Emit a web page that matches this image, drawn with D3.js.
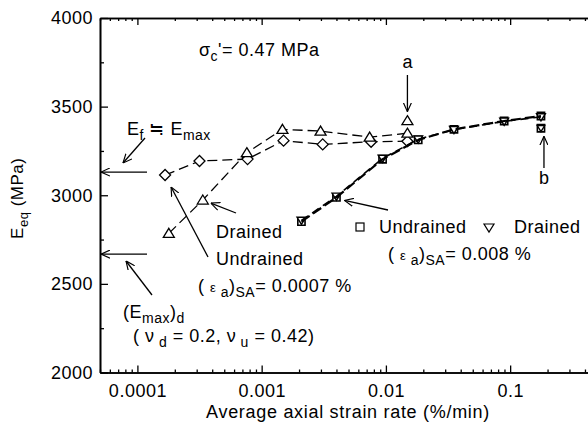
<!DOCTYPE html>
<html><head><meta charset="utf-8">
<script src="https://cdn.jsdelivr.net/npm/d3@7"></script>
<style>
body{margin:0;background:#fff}
svg{display:block}
text{font-family:"Liberation Sans",Arial,Helvetica,sans-serif;fill:#000}
</style>
</head><body>
<svg id="chart" width="588" height="423"></svg>
<script>
// ---- data ----
const undrained07X = [1.67e-4, 3.16e-4, 7.7e-4, 1.5e-3, 3.1e-3, 7.6e-3, 0.0149];
const undrained07E = [3114, 3193, 3204, 3308, 3287, 3302, 3305];
const drained07X   = [1.79e-4, 3.36e-4, 7.6e-4, 1.47e-3, 2.98e-3, 7.4e-3, 0.0149];
const drained07E   = [2785, 2973, 3240, 3372, 3362, 3328, 3350];
const pointAX = [0.0149];
const pointAE = [3421];
const undrained008X = [2.09e-3, 4.0e-3, 9.4e-3, 0.0182, 0.0353, 0.0895, 0.177];
const undrained008E = [2851, 2988, 3203, 3312, 3372, 3419, 3447];
const drained008X   = [2.09e-3, 4.0e-3, 9.4e-3, 0.0182, 0.0353, 0.0895, 0.177];
const drained008E   = [2858, 2994, 3208, 3316, 3370, 3417, 3442];
const pointBX = [0.177];
const pointBE = [3378];
const refLevels = [3131, 2668]; // Ef ≒ Emax, (Emax)d
const yTicks = [2000, 2500, 3000, 3500, 4000];
const yMinorTicks = [2250, 2750, 3250, 3750];
const xTicks = [0.0001, 0.001, 0.01, 0.1];
const xTickLabels = ["0.0001", "0.001", "0.01", "0.1"];

// ---- layout ----
const svg = d3.select("#chart");
const L = 100, R = 597, T = 18, B = 372.5;
const x = d3.scaleLog().domain([5e-5, 0.5]).range([L, R]);
const y = d3.scaleLinear().domain([2000, 4000]).range([B, T]);

const xMinor = [];
for (let e = -5; e <= -1; e++) for (let m = 2; m <= 9; m++) {
  const v = m * Math.pow(10, e);
  if (v >= 5e-5 && v <= 0.5) xMinor.push(v);
}

const defs = svg.append("defs");
defs.append("marker").attr("id", "arr").attr("viewBox", "0 0 10 10")
  .attr("refX", 10).attr("refY", 5).attr("markerWidth", 9).attr("markerHeight", 9)
  .attr("markerUnits", "userSpaceOnUse").attr("orient", "auto")
  .append("path").attr("d", "M0,0.5 L10,5 L0,9.5").attr("fill", "none")
  .attr("stroke", "#000").attr("stroke-width", 1.3);

const fs = "18px", ls = "0.5px";

// axes
function styleAxis(g) {
  g.selectAll("path.domain").attr("stroke", "#000").attr("stroke-width", 1.6);
  g.selectAll(".tick line").attr("stroke", "#000").attr("stroke-width", 1.3);
  g.selectAll(".tick text").style("font-size", fs).style("letter-spacing", ls)
    .style("font-family", '"Liberation Sans",Arial,sans-serif').attr("fill", "#000");
}
svg.append("g").attr("transform", `translate(0,${B})`)
  .call(d3.axisBottom(x).tickValues(xMinor).tickSize(-3).tickSizeOuter(0).tickFormat(""))
  .call(styleAxis);
svg.append("g").attr("transform", `translate(0,${B})`)
  .call(d3.axisBottom(x).tickValues(xTicks).tickSize(-7).tickSizeOuter(0)
    .tickFormat((d, i) => xTickLabels[i]).tickPadding(12))
  .call(styleAxis);
svg.append("g").attr("transform", `translate(0,${T})`)
  .call(d3.axisTop(x).tickValues(xMinor).tickSize(-3).tickSizeOuter(0).tickFormat(""))
  .call(styleAxis);
svg.append("g").attr("transform", `translate(0,${T})`)
  .call(d3.axisTop(x).tickValues(xTicks).tickSize(-7).tickSizeOuter(0).tickFormat(""))
  .call(styleAxis);
svg.append("g").attr("transform", `translate(${L},0)`)
  .call(d3.axisLeft(y).tickValues(yMinorTicks).tickSize(-4).tickSizeOuter(0).tickFormat(""))
  .call(styleAxis);
svg.append("g").attr("transform", `translate(${L},0)`)
  .call(d3.axisLeft(y).tickValues(yTicks).tickSize(-8).tickSizeOuter(0).tickFormat(d3.format("d")).tickPadding(7))
  .call(styleAxis);
svg.append("g").attr("transform", `translate(${R},0)`)
  .call(d3.axisRight(y).tickValues(yMinorTicks).tickSize(-4).tickSizeOuter(0).tickFormat(""))
  .call(styleAxis);
svg.append("g").attr("transform", `translate(${R},0)`)
  .call(d3.axisRight(y).tickValues(yTicks).tickSize(-9).tickSizeOuter(0).tickFormat(""))
  .call(styleAxis);

// axis titles
svg.append("text").attr("x", 348).attr("y", 418).attr("text-anchor", "middle")
  .style("font-size", "18px").style("letter-spacing", "0.7px").text("Average axial strain rate (%/min)");
const yl = svg.append("text").attr("transform", `translate(23,${(T + B) / 2 + 3}) rotate(-90)`)
  .attr("text-anchor", "middle").style("font-size", "17px").style("letter-spacing", ls);
yl.append("tspan").text("E");
yl.append("tspan").attr("dy", 5).style("font-size", "13px").text("eq");
yl.append("tspan").attr("dy", -5).text("  (MPa)");

// ---- series ----
const line = d3.line().x(d => x(d[0])).y(d => y(d[1]));
const zip = (a, b) => a.map((v, i) => [v, b[i]]);
const u07 = zip(undrained07X, undrained07E);
const d07 = zip(drained07X, drained07E);
const u008 = zip(undrained008X, undrained008E);
const d008 = zip(drained008X, drained008E);

function dashed(data, w, dash) {
  svg.append("path").datum(data).attr("d", line).attr("fill", "none")
    .attr("stroke", "#000").attr("stroke-width", w).attr("stroke-dasharray", dash);
}
dashed(u07, 1.3, "10,5");
dashed(d07, 1.3, "10,5");

const diamond = (s) => `M0,${-s}L${s},0L0,${s}L${-s},0Z`;
const tri = (s) => `M0,${-s}L${s * 1.1},${s * 0.8}L${-s * 1.1},${s * 0.8}Z`;
const itri = (s) => `M0,${s}L${s * 1.1},${-s * 0.8}L${-s * 1.1},${-s * 0.8}Z`;
const sq = (s) => `M${-s},${-s}H${s}V${s}H${-s}Z`;

function markers(data, shape, w) {
  svg.append("g").selectAll("path").data(data).join("path")
    .attr("transform", d => `translate(${x(d[0])},${y(d[1])})`)
    .attr("d", shape).attr("fill", "#fff").attr("stroke", "#000").attr("stroke-width", w);
}
markers(u07, diamond(5.5), 1.3);
markers(d07, tri(5), 1.3);
markers(zip(pointAX, pointAE), tri(5), 1.3);

markers(u008, sq(3.6), 1.6);
markers(d008, itri(4), 1.4);
markers(zip(pointBX, pointBE), sq(3.6), 1.6);
markers(zip(pointBX, pointBE), itri(3.4), 1.4);
dashed(u008, 2.2, "10,4");
dashed(d008, 1.6, "8,5");

// ---- annotations ----
function arrow(x1, y1, x2, y2) {
  svg.append("line").attr("x1", x1).attr("y1", y1).attr("x2", x2).attr("y2", y2)
    .attr("stroke", "#000").attr("stroke-width", 1.3).attr("marker-end", "url(#arr)");
}
function rich(xp, yp, parts, size) {
  const t = svg.append("text").attr("x", xp).attr("y", yp)
    .style("font-size", size || fs).style("letter-spacing", ls);
  let cur = 0;
  parts.forEach(p => {
    const off = p.sub ? 5 : (p.sup ? -5 : 0);
    const ts = t.append("tspan").attr("dy", off - cur).text(p.t);
    if (p.sub || p.sup) ts.style("font-size", "14px");
    if (p.small) ts.style("font-size", "13px");
    cur = off;
  });
  return t;
}

// sigma
rich(199, 56, [{t: "σ"}, {t: "c", sub: true}, {t: "'= 0.47 MPa"}]);
// a / b
svg.append("text").attr("x", x(pointAX[0])).attr("y", 68).attr("text-anchor", "middle")
  .style("font-size", fs).text("a");
arrow(x(pointAX[0]), 75, x(pointAX[0]), y(pointAE[0]) - 9);
svg.append("text").attr("x", x(pointBX[0]) + 3).attr("y", 184).attr("text-anchor", "middle")
  .style("font-size", fs).text("b");
arrow(x(pointBX[0]) + 3, 168, x(pointBX[0]) + 3, y(pointBE[0]) + 8);

// Ef = Emax
rich(127, 135, [{t: "E"}, {t: "f", sub: true}, {t: " ≒ E"}, {t: "max", sub: true}]);
arrow(145, 138, 123, 163);
arrow(147, y(refLevels[0]), L + 1, y(refLevels[0]));
arrow(147, y(refLevels[1]), L + 1, y(refLevels[1]));
arrow(152, 295, 126, 261);
rich(123, 318, [{t: "(E"}, {t: "max", sub: true}, {t: ")"}, {t: "d", sub: true}]);
rich(133, 342, [{t: "( ν"}, {t: " d", sub: true}, {t: " = 0.2,  ν"}, {t: " u", sub: true}, {t: " = 0.42)"}]);

// 0.0007 % labels
svg.append("text").attr("x", 216).attr("y", 238).style("font-size", fs).style("letter-spacing", ls).text("Drained");
arrow(236, 213, x(drained07X[1]) + 8, y(drained07E[1]) + 3);
svg.append("text").attr("x", 216).attr("y", 265).style("font-size", fs).style("letter-spacing", ls).text("Undrained");
arrow(208, 257, x(undrained07X[0]) + 6, y(undrained07E[0]) + 12);
rich(198, 292, [{t: "( "}, {t: "ε", small: true}, {t: " a", sub: true}, {t: ")", sup: false}, {t: "SA", sub: true}, {t: "= 0.0007 %"}]);

// 0.008 % labels
svg.append("rect").attr("x", 356).attr("y", 223).attr("width", 8).attr("height", 8)
  .attr("fill", "#fff").attr("stroke", "#000").attr("stroke-width", 1.2);
svg.append("text").attr("x", 379).attr("y", 233).style("font-size", fs).style("letter-spacing", ls).text("Undrained");
svg.append("path").attr("d", "M484,224 L494,224 L489,232 Z").attr("fill", "#fff")
  .attr("stroke", "#000").attr("stroke-width", 1.2);
svg.append("text").attr("x", 514).attr("y", 233).style("font-size", fs).style("letter-spacing", ls).text("Drained");
rich(388, 260, [{t: "( "}, {t: "ε", small: true}, {t: " a", sub: true}, {t: ")"}, {t: "SA", sub: true}, {t: "= 0.008 %"}]);
arrow(388, 210, x(undrained008X[1]) + 8, y(undrained008E[1]) + 3);
</script>
</body></html>
